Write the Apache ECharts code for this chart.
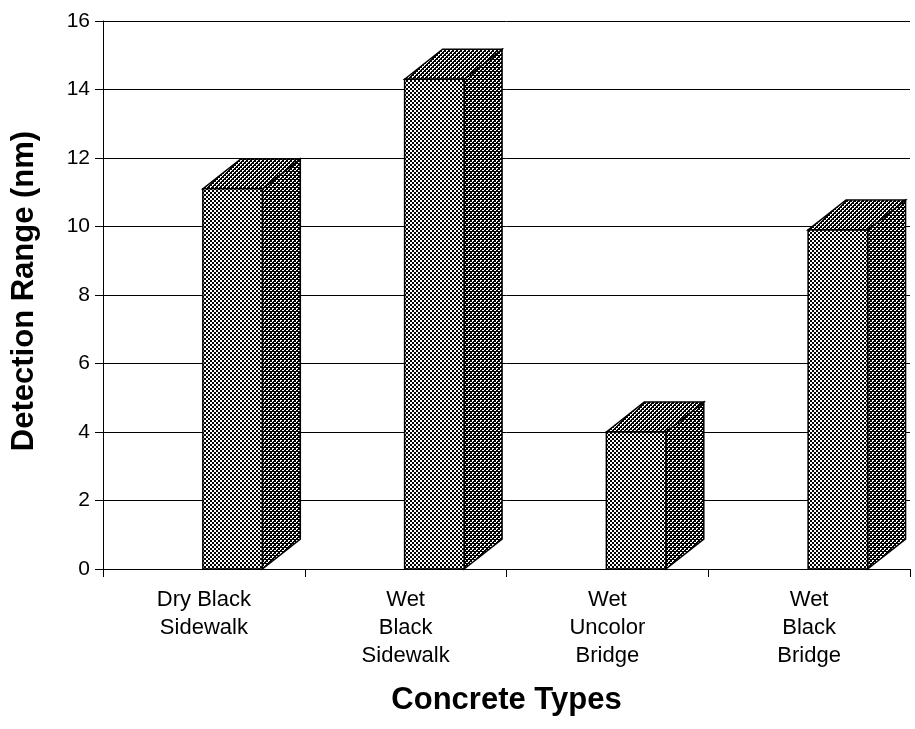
<!DOCTYPE html>
<html>
<head>
<meta charset="utf-8">
<script src="https://cdn.jsdelivr.net/npm/echarts@6/dist/echarts.min.js"></script>
<style>
html,body{margin:0;padding:0;background:#fff;}
#chart{width:915px;height:729px;}
</style>
</head>
<body>
<div id="chart"></div>
<script>
const categories = ['Dry Black\nSidewalk', 'Wet\nBlack\nSidewalk', 'Wet\nUncolor\nBridge', 'Wet\nBlack\nBridge'];
const values = [11.1, 14.3, 4.0, 9.9];
const yTicks = { min: 0, max: 16, interval: 2 };

function makePattern(whites) {
  const c = document.createElement('canvas');
  c.width = 4; c.height = 4;
  const ctx = c.getContext('2d');
  ctx.fillStyle = '#000';
  ctx.fillRect(0, 0, 4, 4);
  ctx.fillStyle = '#fff';
  whites.forEach(p => ctx.fillRect(p[0], p[1], 1, 1));
  return { image: c, repeat: 'repeat' };
}
const frontPat = makePattern([[0,0],[1,0],[0,1],[1,1],[2,2],[3,2],[2,3],[3,3]]);
const sidePat = makePattern([[0,0],[1,0],[2,2],[3,2],[0,1]]);
const topPat = makePattern([[0,0],[1,0],[2,2],[3,2],[0,1],[2,3]]);

const chart = echarts.init(document.getElementById('chart'));
const font = 'Liberation Sans, Arial, sans-serif';

chart.setOption({
  animation: false,
  backgroundColor: '#fff',
  grid: { left: 103, right: 5, top: 21, bottom: 160 },
  xAxis: {
    type: 'category',
    data: categories,
    boundaryGap: true,
    axisLine: { show: true, lineStyle: { color: '#000', width: 1 } },
    axisTick: { show: true, length: 8, lineStyle: { color: '#000' } },
    axisLabel: { interval: 0, margin: 17, color: '#000', fontFamily: font, fontSize: 22, lineHeight: 28 },
    name: 'Concrete Types',
    nameLocation: 'middle',
    nameGap: 116,
    nameTextStyle: { color: '#000', fontFamily: font, fontSize: 31, fontWeight: 'bold' }
  },
  yAxis: {
    type: 'value',
    min: yTicks.min, max: yTicks.max, interval: yTicks.interval,
    axisLine: { show: true, lineStyle: { color: '#000', width: 1 } },
    axisTick: { show: true, length: 8, lineStyle: { color: '#000' } },
    axisLabel: { margin: 13, color: '#000', fontFamily: font, fontSize: 21 },
    splitLine: { show: true, lineStyle: { color: '#000', width: 1 } },
    name: 'Detection Range (nm)',
    nameLocation: 'middle',
    nameGap: 63,
    nameTextStyle: { color: '#000', fontFamily: font, fontSize: 31, fontWeight: 'bold', padding: [0, 0, 0, 8] }
  },
  series: [{
    type: 'custom',
    data: values.map((v, i) => [i, v]),
    encode: { x: 0, y: 1 },
    clip: false,
    renderItem: function (params, api) {
      const idx = api.value(0), val = api.value(1);
      const top = api.coord([idx, val]);
      const base = api.coord([idx, 0]);
      const bw = api.size([1, 0])[0];
      const x0 = top[0] - 0.005 * bw;
      const w = 0.295 * bw;
      const dx = 0.188 * bw;
      const dy = dx * 30 / 38;
      const x1 = x0 + w;
      const yt = top[1], yb = base[1];
      const stroke = { stroke: '#000', lineWidth: 1.5, lineJoin: 'miter' };
      return {
        type: 'group',
        children: [
          { type: 'polygon', shape: { points: [[x1, yt], [x1 + dx, yt - dy], [x1 + dx, yb - dy], [x1, yb]] },
            style: Object.assign({ fill: sidePat }, stroke) },
          { type: 'polygon', shape: { points: [[x0, yt], [x0 + dx, yt - dy], [x1 + dx, yt - dy], [x1, yt]] },
            style: Object.assign({ fill: topPat }, stroke) },
          { type: 'polygon', shape: { points: [[x0, yt], [x1, yt], [x1, yb], [x0, yb]] },
            style: Object.assign({ fill: frontPat }, stroke) }
        ]
      };
    }
  }]
});
</script>
</body>
</html>
